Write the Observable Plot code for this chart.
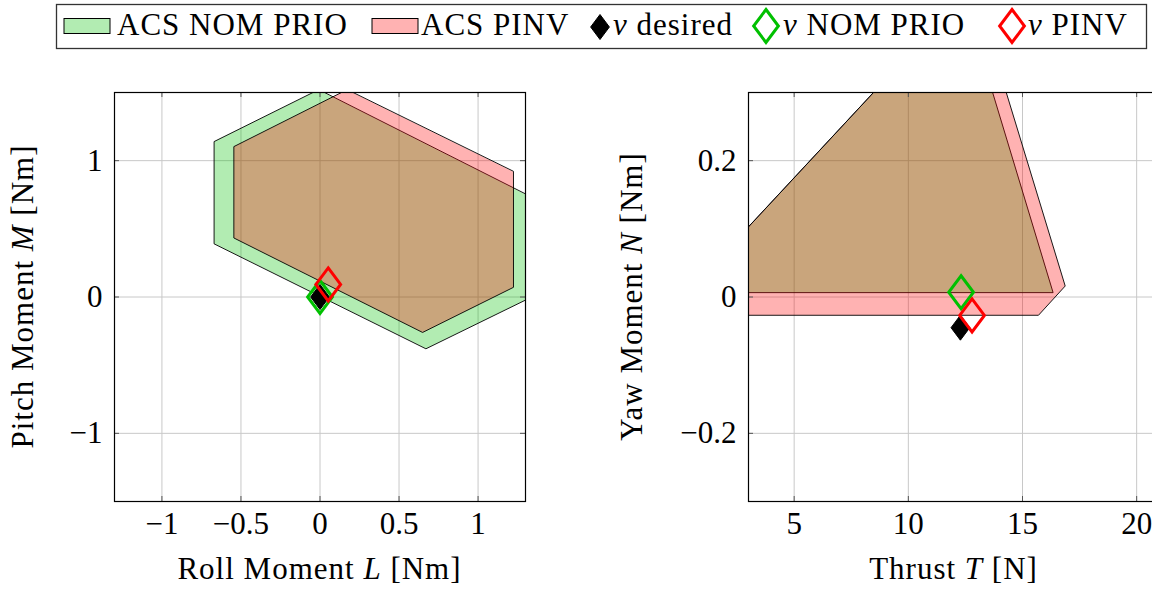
<!DOCTYPE html>
<html><head><meta charset="utf-8">
<script src="https://cdn.jsdelivr.net/npm/d3@7"></script>
<script src="https://cdn.jsdelivr.net/npm/@observablehq/plot@0.6"></script>
<style>
html,body{margin:0;padding:0;background:#fff;overflow:hidden;}
#root{position:relative;width:1152px;height:594px;overflow:hidden;font-family:"Liberation Serif",serif;}
#root svg{position:absolute;top:0;}
</style></head><body><div id="root"></div>
<script>
// ---------- data ----------
// Left panel: attainable control sets, [Roll L, Pitch M]
const acsNomPrioLM = [[-0.01,1.52],[-0.67,1.14],[-0.67,0.39],[0.67,-0.38],[1.34,0.0],[1.34,0.73]];
const acsPinvLM = [[0.17,1.52],[-0.545,1.103],[-0.545,0.433],[0.649,-0.26],[1.224,0.071],[1.224,0.919]];
// Right panel: attainable control sets, [Thrust T, Yaw N]
const acsNomPrioTN = [[0.34,0.0064],[16.34,0.0064],[12.79,0.40],[11.27,0.40]];
const acsPinvTN = [[-0.59,-0.0268],[15.70,-0.0268],[16.87,0.0161],[13.38,0.40],[11.27,0.40]];
// virtual control points
const nuDesired = [{L:0, M:0, T:12.28, N:-0.045}];
const nuNomPrio = [{L:0, M:0, T:12.31, N:0.007}];
const nuPinv = [{L:0.052, M:0.092, T:12.79, N:-0.027}];
// axes
const ticksL = [-1,-0.5,0,0.5,1];
const ticksM = [-1,0,1];
const ticksT = [5,10,15,20];
const ticksN = [-0.2,0,0.2];
const domainL = [-1.3,1.3], domainM = [-1.5,1.5], domainT = [3,21], domainN = [-0.3,0.3];
const legendLabels = ["ACS NOM PRIO","ACS PINV","desired","NOM PRIO","PINV"];

// ---------- styles ----------
const GREEN = "#00c000", RED = "#ff0000";
const FONT = '"Liberation Serif", serif';
const ASPECT = 0.75;
const diamond = {draw(ctx, size){ const r = Math.sqrt(size/Math.PI); const w = r*ASPECT;
  ctx.moveTo(0,-r); ctx.lineTo(w,0); ctx.lineTo(0,r); ctx.lineTo(-w,0); ctx.closePath(); }};
const fmt = d => d < 0 ? "\u2212" + String(Math.abs(d)) : String(d);

function panel(o){
  const H = 594, mt = 92, mb = 93;
  const innerH = H - mt - mb, innerW = o.width - o.marginLeft - o.marginRight;
  const svg = Plot.plot({
    width:o.width, height:H, marginTop:mt, marginBottom:mb, marginLeft:o.marginLeft, marginRight:o.marginRight,
    x:{domain:o.xDomain}, y:{domain:o.yDomain},
    style:{fontFamily:FONT, fontSize:"31px", background:"transparent", overflow:"visible", color:"black"},
    marks:[
      Plot.gridX(o.xTicks,{stroke:"#c8c8c8", strokeOpacity:1, strokeWidth:1}),
      Plot.gridY(o.yTicks,{stroke:"#c8c8c8", strokeOpacity:1, strokeWidth:1}),
      Plot.line(o.polyA,{x:d=>d[0], y:d=>d[1], curve:"linear-closed", fill:GREEN, fillOpacity:0.3, stroke:"black", strokeWidth:0.9, clip:true}),
      Plot.line(o.polyB,{x:d=>d[0], y:d=>d[1], curve:"linear-closed", fill:RED, fillOpacity:0.3, stroke:"black", strokeWidth:0.9, clip:true}),
      Plot.dot(nuDesired,{x:o.xk, y:o.yk, symbol:diamond, r:12.5, fill:"black", stroke:"black", strokeWidth:1}),
      Plot.dot(nuNomPrio,{x:o.xk, y:o.yk, symbol:diamond, r:16.5, fill:"none", stroke:GREEN, strokeWidth:3, strokeLinejoin:"miter"}),
      Plot.dot(nuPinv,{x:o.xk, y:o.yk, symbol:diamond, r:16.5, fill:"none", stroke:RED, strokeWidth:3, strokeLinejoin:"miter"}),
      Plot.ruleX(o.xTicks,{x:d=>d, insetTop:innerH-5, stroke:"#555", strokeWidth:1}),
      Plot.ruleX(o.xTicks,{x:d=>d, insetBottom:innerH-5, stroke:"#555", strokeWidth:1}),
      Plot.ruleY(o.yTicks,{y:d=>d, insetRight:innerW-5, stroke:"#555", strokeWidth:1}),
      Plot.ruleY(o.yTicks,{y:d=>d, insetLeft:innerW-5, stroke:"#555", strokeWidth:1}),
      Plot.frame({stroke:"black", strokeWidth:1.2}),
      Plot.axisX(o.xTicks,{tickSize:0, tickPadding:10, tickFormat:fmt, label:null}),
      Plot.axisY(o.yTicks,{tickSize:0, tickPadding:12, tickFormat:fmt, label:null})
    ]
  });
  svg.style.left = o.left + "px";
  const s = d3.select(svg);
  const cx = o.marginLeft + innerW/2, cy = mt + innerH/2;
  const xl = s.append("text").attr("x", cx).attr("y", 579).attr("text-anchor","middle")
    .style("font-size","31px").style("letter-spacing","1px").style("font-family",FONT);
  o.xLabel.forEach(([t,it]) => xl.append("tspan").attr("font-style", it ? "italic" : "normal").text(t));
  const yl = s.append("text").attr("transform",`translate(${o.yLabelX},${cy}) rotate(-90)`).attr("text-anchor","middle")
    .style("font-size","31px").style("letter-spacing","1px").style("font-family",FONT);
  o.yLabel.forEach(([t,it]) => yl.append("tspan").attr("font-style", it ? "italic" : "normal").text(t));
  return svg;
}

const root = document.getElementById("root");
root.appendChild(panel({left:0, width:576, marginLeft:114, marginRight:51, xDomain:domainL, yDomain:domainM,
  xTicks:ticksL, yTicks:ticksM, polyA:acsNomPrioLM, polyB:acsPinvLM, xk:"L", yk:"M",
  xLabel:[["Roll Moment "],["L",true],[" [Nm]"]], yLabel:[["Pitch Moment "],["M",true],[" [Nm]"]], yLabelX:33}));
root.appendChild(panel({left:576, width:600, marginLeft:172, marginRight:17, xDomain:domainT, yDomain:domainN,
  xTicks:ticksT, yTicks:ticksN, polyA:acsNomPrioTN, polyB:acsPinvTN, xk:"T", yk:"N",
  xLabel:[["Thrust "],["T",true],[" [N]"]], yLabel:[["Yaw Moment "],["N",true],[" [Nm]"]], yLabelX:66}));

// ---------- legend ----------
const ns = "http://www.w3.org/2000/svg";
const lg = d3.select(root).append("svg").attr("width",1152).attr("height",54).style("left","0px")
  .style("font-family",FONT).style("font-size","31px");
lg.append("rect").attr("x",56.5).attr("y",4.5).attr("width",1090).attr("height",44).attr("fill","white").attr("stroke","#333").attr("stroke-width",1.3);
function swatch(x, color){ lg.append("rect").attr("x",64+x-64).attr("y",18.5).attr("width",46).attr("height",15)
  .attr("fill",color).attr("fill-opacity",0.3).attr("stroke","black").attr("stroke-width",1); }
function dia(cx, cy, r, fill, stroke, sw){ const w = r*ASPECT;
  lg.append("path").attr("d",`M${cx},${cy-r}L${cx+w},${cy}L${cx},${cy+r}L${cx-w},${cy}Z`)
    .attr("fill",fill).attr("stroke",stroke).attr("stroke-width",sw).attr("stroke-linejoin","miter"); }
function label(x, parts){ const t = lg.append("text").attr("x",x).attr("y",35).style("letter-spacing","1px");
  parts.forEach(([s,it]) => t.append("tspan").attr("font-style", it ? "italic":"normal").text(s)); }
swatch(64, GREEN); label(117, [[legendLabels[0]]]);
swatch(372, RED); label(421, [[legendLabels[1]]]);
dia(600, 27, 12.5, "black", "black", 1); label(613, [["ν",true],[" "+legendLabels[2]]]);
dia(766, 26, 16.5, "none", GREEN, 3); label(783, [["ν",true],[" "+legendLabels[3]]]);
dia(1012, 26, 16.5, "none", RED, 3); label(1028, [["ν",true],[" "+legendLabels[4]]]);
</script></body></html>
